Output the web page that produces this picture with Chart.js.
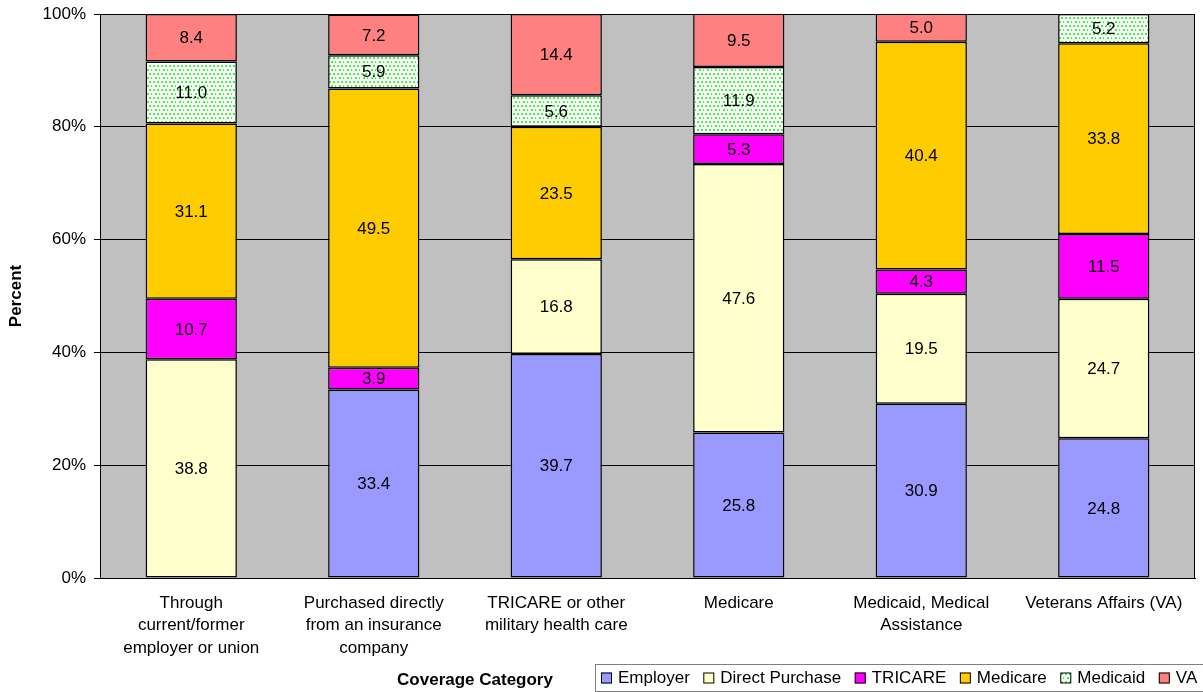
<!DOCTYPE html>
<html>
<head>
<meta charset="utf-8">
<script src="https://cdn.jsdelivr.net/npm/chart.js@4/dist/chart.umd.min.js"></script>
<style>
html,body{margin:0;padding:0;background:#fff;}
#wrap{width:1203px;height:692px;position:relative;}
</style>
</head>
<body>
<div id="wrap"><canvas id="c" width="1203" height="692"></canvas></div>
<script>
// ---- data ----
const categories = [
  ["Through", "current/former", "employer or union"],
  ["Purchased directly", "from an insurance", "company"],
  ["TRICARE or other", "military health care"],
  ["Medicare"],
  ["Medicaid, Medical", "Assistance"],
  ["Veterans Affairs (VA)"]
];
const seriesNames = ["Employer", "Direct Purchase", "TRICARE", "Medicare", "Medicaid", "VA"];
// null = no segment for that category
const employer       = [null, 33.4, 39.7, 25.8, 30.9, 24.8];
const directPurchase = [38.8, null, 16.8, 47.6, 19.5, 24.7];
const tricare        = [10.7, 3.9, null, 5.3, 4.3, 11.5];
const medicare       = [31.1, 49.5, 23.5, null, 40.4, 33.8];
const medicaid       = [11.0, 5.9, 5.6, 11.9, null, 5.2];
const va             = [8.4, 7.2, 14.4, 9.5, 5.0, null];
const yTicks = [0, 20, 40, 60, 80, 100];
const xTitle = "Coverage Category";
const yTitle = "Percent";

const FONT = "Arial, 'Liberation Sans', sans-serif";

// dotted pattern for Medicaid
function makePattern() {
  const p = document.createElement('canvas');
  p.width = 8; p.height = 8;
  const g = p.getContext('2d');
  g.fillStyle = '#ffffff';
  g.fillRect(0, 0, 8, 8);
  [[1,1],[5,1],[3,5],[7,5]].forEach(([x,y]) => {
    g.fillStyle = '#33ee33';
    g.fillRect(x, y, 2, 2);
    g.fillStyle = '#66ff66';
    g.fillRect(x, y, 1, 1);
  });
  return document.createElement('canvas').getContext('2d').createPattern(p, 'repeat');
}
const medicaidPattern = makePattern();

const fills = ['#9999FF', '#FFFFCC', '#FF00FF', '#FFCC00', medicaidPattern, '#FF8080'];
const seriesData = [employer, directPurchase, tricare, medicare, medicaid, va];

const datasets = seriesNames.map((name, i) => ({
  label: name,
  data: seriesData[i],
  backgroundColor: fills[i],
  borderColor: '#000000',
  borderWidth: 1.5,
  borderSkipped: false,
  barPercentage: 0.5,
  categoryPercentage: 1.0
}));

const bgPlugin = {
  id: 'bg',
  beforeDraw(chart) {
    const {ctx, chartArea: a} = chart;
    ctx.save();
    ctx.fillStyle = '#C0C0C0';
    ctx.fillRect(a.left, a.top, a.right - a.left, a.bottom - a.top);
    ctx.restore();
  },
  afterDraw(chart) {
    const {ctx, chartArea: a} = chart;
    ctx.save();
    // plot border
    ctx.strokeStyle = '#000';
    ctx.lineWidth = 1;
    ctx.strokeRect(Math.round(a.left) + 0.5, Math.round(a.top) + 0.5,
                   Math.round(a.right - a.left) - 1, Math.round(a.bottom - a.top));
    // x axis title
    ctx.fillStyle = '#000';
    ctx.font = 'bold 17px ' + FONT;
    ctx.textAlign = 'center';
    ctx.textBaseline = 'middle';
    ctx.fillText(xTitle, 475, 680);
    // legend
    const lx = 595, ly = 664, lh = 27;
    ctx.strokeStyle = '#808080';
    ctx.strokeRect(lx + 0.5, ly + 0.5, 1203 - lx + 10, lh);
    ctx.font = '17px ' + FONT;
    ctx.textAlign = 'left';
    let x = lx + 6;
    const cy = ly + lh / 2 + 1;
    chart.data.datasets.forEach(ds => {
      ctx.fillStyle = ds.backgroundColor;
      ctx.fillRect(x, cy - 6, 11, 11);
      ctx.strokeStyle = '#000';
      ctx.lineWidth = 1;
      ctx.strokeRect(x + 0.5, cy - 5.5, 10, 10);
      ctx.fillStyle = '#000';
      ctx.fillText(ds.label, x + 17, cy);
      x += 17 + ctx.measureText(ds.label).width + 13.5;
    });
    ctx.restore();
  },
  afterDatasetsDraw(chart) {
    const {ctx} = chart;
    ctx.save();
    ctx.fillStyle = '#000';
    ctx.font = '17px ' + FONT;
    ctx.textAlign = 'center';
    ctx.textBaseline = 'middle';
    chart.data.datasets.forEach((ds, di) => {
      const meta = chart.getDatasetMeta(di);
      meta.data.forEach((el, i) => {
        const v = ds.data[i];
        if (v === null || v === undefined) return;
        const p = el.getProps(['x', 'y', 'base'], true);
        ctx.fillText(v.toFixed(1), p.x, (p.y + p.base) / 2 + 1);
      });
    });
    ctx.restore();
  }
};

new Chart(document.getElementById('c'), {
  type: 'bar',
  data: { labels: categories, datasets },
  options: {
    responsive: false,
    animation: false,
    devicePixelRatio: 1,
    layout: { padding: { top: 14, right: 8, left: 0, bottom: 0 } },
    plugins: {
      legend: { display: false },
      tooltip: { enabled: false }
    },
    scales: {
      x: {
        stacked: true,
        grid: { display: false, drawTicks: false },
        border: { display: true, color: '#000' },
        ticks: {
          color: '#000',
          font: { family: FONT, size: 17, lineHeight: 1.32 },
          padding: 14,
          maxRotation: 0,
          autoSkip: false
        },
        afterFit(scale) { scale.height = 114; scale.paddingLeft = 0; scale.paddingRight = 0; }
      },
      y: {
        stacked: true,
        min: 0,
        max: 100,
        afterBuildTicks(scale) { scale.ticks = yTicks.map(v => ({ value: v })); },
        grid: { color: '#000', lineWidth: 1, drawTicks: true, tickLength: 6, tickColor: '#000' },
        border: { display: true, color: '#000' },
        ticks: {
          color: '#000',
          font: { family: FONT, size: 17 },
          padding: 8,
          callback: v => v + '%'
        },
        title: {
          display: true,
          text: yTitle,
          color: '#000',
          font: { family: FONT, size: 17, weight: 'bold' },
          padding: { top: 6, bottom: 0 }
        },
        afterFit(scale) { scale.width = 100; scale.paddingTop = 0; scale.paddingBottom = 0; }
      }
    }
  },
  plugins: [bgPlugin]
});
</script>
</body>
</html>
